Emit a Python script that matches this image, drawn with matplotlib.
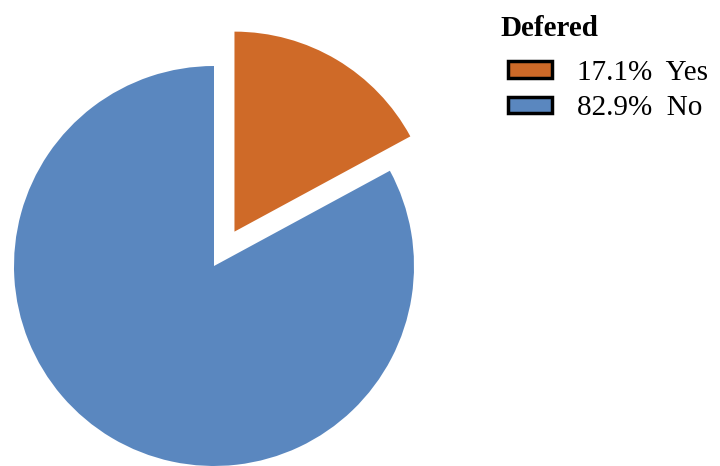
import matplotlib.pyplot as plt
from matplotlib.patches import Patch

labels = ['Yes', 'No']
shares = [17.1, 82.9]
colors = ['#CF6A28', '#5A87BF']
explode = [0.2, 0]

plt.rcParams['font.family'] = 'Liberation Serif'

fig = plt.figure(figsize=(7.2, 4.66), dpi=100)
ax = fig.add_axes([14 / 720, 0, 400 / 720, 400 / 466])
wedges, _ = ax.pie(shares, colors=colors, explode=explode, startangle=90,
                   counterclock=False, radius=1)
for w in wedges:
    w.set_clip_on(False)
ax.set_xlim(-1, 1)
ax.set_ylim(-1, 1)
ax.set_aspect('equal')
ax.axis('off')

# legend title drawn separately so it can sit left of the swatches
fig.text(500 / 720, 1 - 28 / 466, 'Defered', fontsize=21, fontweight='bold',
         ha='left', va='center')

handles = [Patch(facecolor=c, edgecolor='black', linewidth=2.5) for c in colors]
leg_labels = [f'{s:.1f}%  {l}' for s, l in zip(shares, labels)]
fig.legend(handles, leg_labels, loc='upper left',
           bbox_to_anchor=(508 / 720, 1 - 60 / 466), frameon=False,
           fontsize=21, handlelength=1.5, handleheight=0.5, handletextpad=0.85,
           labelspacing=0.32, borderpad=0, borderaxespad=0)

fig.savefig('out.png', dpi=100)
